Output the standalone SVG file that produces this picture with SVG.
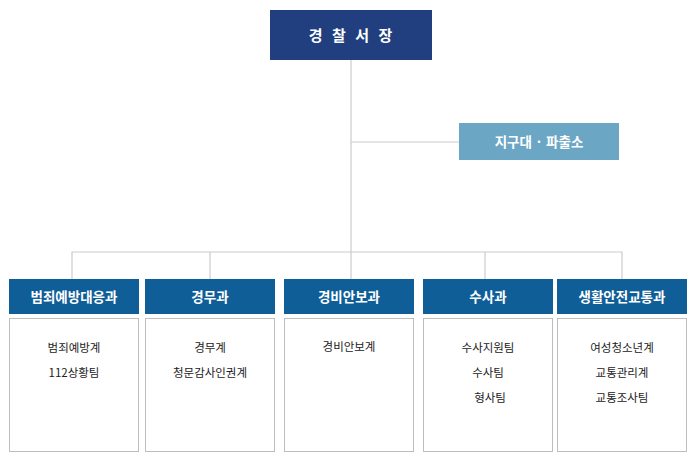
<svg xmlns="http://www.w3.org/2000/svg" width="700" height="456" viewBox="0 0 700 456">
<style>
  .hd { fill: #0f5e98; }
  .bx { fill: #ffffff; stroke: #bdbdbd; stroke-width: 1; }
  .ln { stroke: #cccccc; stroke-width: 1.2; fill: none; }
  .ht { font-family: "Noto Sans CJK KR", "Noto Sans", sans-serif; font-size: 13.5px; font-weight: bold; fill: #ffffff; text-anchor: middle; }
  .it { font-family: "Noto Sans CJK KR", "Noto Sans", sans-serif; font-size: 11.5px; fill: #222222; text-anchor: middle; }
</style>
<rect width="700" height="456" fill="#ffffff"/>
<g id="connectors">
  <path class="ln" d="M351 60 V252"/>
  <path class="ln" d="M351 142 H459"/>
  <path class="ln" d="M72 279 V252 H622 V279"/>
  <path class="ln" d="M210 252 V279"/>
  <path class="ln" d="M351 252 V279"/>
  <path class="ln" d="M485 252 V279"/>
</g>
<g id="chief">
  <rect x="270" y="10" width="162" height="50" fill="#213f7e"/>
  <text x="352" y="40.5" font-family="'Noto Sans CJK KR', 'Noto Sans', sans-serif" font-size="15" font-weight="bold" fill="#ffffff" text-anchor="middle" letter-spacing="3">경 찰 서 장</text>
</g>
<g id="jigudae">
  <rect x="459" y="123" width="160" height="37" fill="#6ba6c5"/>
  <text x="539" y="146.5" class="ht" font-size="14">지구대 · 파출소</text>
</g>
<g id="dept1">
  <rect class="hd" x="9" y="279" width="130" height="35"/>
  <text class="ht" x="74" y="301.5">범죄예방대응과</text>
  <rect class="bx" x="9.5" y="318.5" width="129" height="133"/>
  <text class="it" x="74" y="352">범죄예방계</text>
  <text class="it" x="74" y="377">112상황팀</text>
</g>
<g id="dept2">
  <rect class="hd" x="145" y="279" width="130" height="35"/>
  <text class="ht" x="210" y="301.5">경무과</text>
  <rect class="bx" x="145.5" y="318.5" width="129" height="133"/>
  <text class="it" x="210" y="352">경무계</text>
  <text class="it" x="210" y="377">청문감사인권계</text>
</g>
<g id="dept3">
  <rect class="hd" x="284" y="279" width="130" height="35"/>
  <text class="ht" x="349" y="301.5">경비안보과</text>
  <rect class="bx" x="284.5" y="318.5" width="129" height="133"/>
  <text class="it" x="349" y="351">경비안보계</text>
</g>
<g id="dept4">
  <rect class="hd" x="423" y="279" width="130" height="35"/>
  <text class="ht" x="488" y="301.5">수사과</text>
  <rect class="bx" x="423.5" y="318.5" width="129" height="133"/>
  <text class="it" x="488" y="352">수사지원팀</text>
  <text class="it" x="488" y="377">수사팀</text>
  <text class="it" x="490" y="402">형사팀</text>
</g>
<g id="dept5">
  <rect class="hd" x="557" y="279" width="130" height="35"/>
  <text class="ht" x="622" y="301.5">생활안전교통과</text>
  <rect class="bx" x="557.5" y="318.5" width="129" height="133"/>
  <text class="it" x="622" y="352">여성청소년계</text>
  <text class="it" x="622" y="377">교통관리계</text>
  <text class="it" x="622" y="402">교통조사팀</text>
</g>
</svg>
